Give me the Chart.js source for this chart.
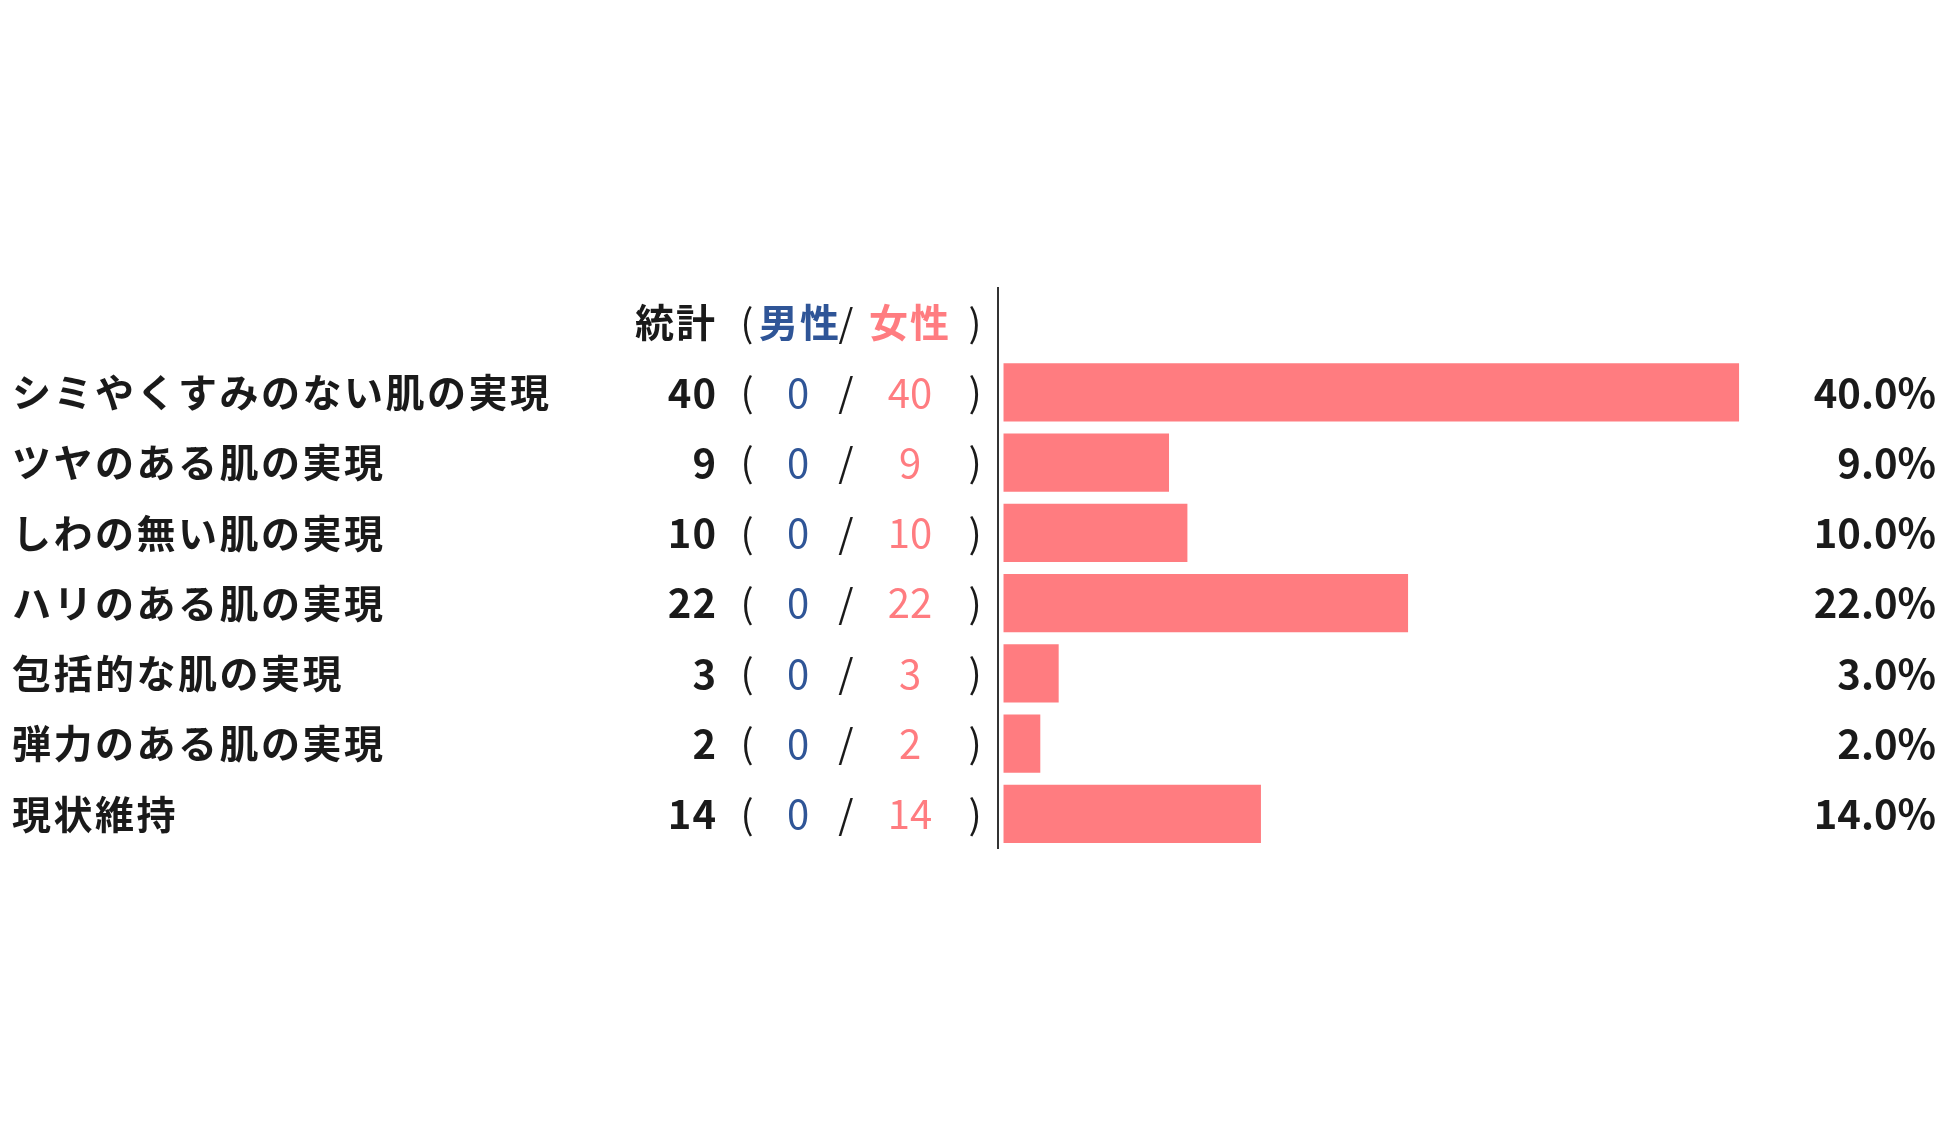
<!DOCTYPE html>
<html>
<head>
<meta charset="utf-8">
<script src="https://cdn.jsdelivr.net/npm/chart.js@4"></script>
<style>
  html, body { margin: 0; padding: 0; background: #fff; }
  #wrap { width: 1949px; height: 1137px; }
</style>
</head>
<body>
<div id="wrap"><canvas id="skinChart"></canvas></div>
<script>
// data
var categories = ['シミやくすみのない肌の実現', 'ツヤのある肌の実現', 'しわの無い肌の実現', 'ハリのある肌の実現', '包括的な肌の実現', '弾力のある肌の実現', '現状維持'];
var totalCounts = [40, 9, 10, 22, 3, 2, 14];
var maleCounts = [0, 0, 0, 0, 0, 0, 0];
var femaleCounts = [40, 9, 10, 22, 3, 2, 14];
var percentLabels = ['40.0%', '9.0%', '10.0%', '22.0%', '3.0%', '2.0%', '14.0%'];
var headerTexts = ['統計', '男性', '女性'];

var PINK = '#ff7c80';
var BLUE = '#2f5597';
var DARK = '#1a1a1a';
var FONT = '"Noto Sans CJK JP", "Noto Sans", sans-serif';

// first row of the category axis is the header line
var rowLabels = [''].concat(categories);
var rowValues = [null].concat(totalCounts);

var tablePlugin = {
  id: 'tableText',
  afterDatasetsDraw: function(chart) {
    var ctx = chart.ctx;
    var y = chart.scales.y;
    var area = chart.chartArea;
    ctx.save();
    ctx.textBaseline = 'middle';

    // header
    var hy = y.getPixelForValue(0);
    ctx.font = 'bold 39px ' + FONT;
    ctx.letterSpacing = '2px';
    ctx.fillStyle = DARK;
    ctx.textAlign = 'right';
    ctx.fillText(headerTexts[0], 717, hy);
    ctx.font = '38px ' + FONT;
    ctx.letterSpacing = '0px';
    ctx.textAlign = 'center';
    ctx.fillText('(', 747, hy);
    ctx.fillText(')', 975, hy);
    ctx.fillText('/', 846, hy);
    ctx.font = 'bold 39px ' + FONT;
    ctx.letterSpacing = '2px';
    ctx.fillStyle = BLUE;
    ctx.fillText(headerTexts[1], 800, hy);
    ctx.fillStyle = PINK;
    ctx.fillText(headerTexts[2], 910, hy);

    for (var i = 0; i < categories.length; i++) {
      var py = y.getPixelForValue(i + 1);
      ctx.font = 'bold 39px ' + FONT;
      ctx.letterSpacing = '2.5px';
      ctx.fillStyle = DARK;
      ctx.textAlign = 'left';
      ctx.fillText(categories[i], 12, py);

      ctx.font = 'bold 40px ' + FONT;
      ctx.letterSpacing = '1px';
      ctx.textAlign = 'right';
      ctx.fillText(String(totalCounts[i]), 717, py);
      ctx.letterSpacing = '0px';
      ctx.fillText(percentLabels[i], 1936, py);

      ctx.font = '39px ' + FONT;
      ctx.textAlign = 'center';
      ctx.fillText('(', 747, py);
      ctx.fillText('/', 846, py);
      ctx.fillText(')', 975, py);
      ctx.font = '40px ' + FONT;
      ctx.fillStyle = BLUE;
      ctx.fillText(String(maleCounts[i]), 798, py);
      ctx.fillStyle = PINK;
      ctx.fillText(String(femaleCounts[i]), 910, py);
    }

    // vertical axis line
    ctx.strokeStyle = '#333';
    ctx.lineWidth = 2;
    ctx.beginPath();
    ctx.moveTo(area.left, area.top);
    ctx.lineTo(area.left, area.bottom);
    ctx.stroke();
    ctx.restore();
  }
};

var ctx = document.getElementById('skinChart').getContext('2d');
var skinChart = new Chart(ctx, {
  type: 'bar',
  data: {
    labels: rowLabels,
    datasets: [{
      label: '統計',
      data: rowValues,
      backgroundColor: PINK,
      borderWidth: 0,
      barPercentage: 0.92,
      categoryPercentage: 0.9
    }]
  },
  options: {
    indexAxis: 'y',
    responsive: true,
    maintainAspectRatio: false,
    animation: false,
    devicePixelRatio: 1,
    layout: { padding: { left: 998, right: 118, top: 287, bottom: 288 } },
    plugins: {
      legend: { display: false },
      tooltip: { enabled: false }
    },
    scales: {
      x: {
        display: false,
        min: -0.3,
        max: 45
      },
      y: {
        display: true,
        ticks: { display: false },
        grid: { display: false, drawTicks: false },
        border: { display: false },
        afterFit: function(scale) { scale.width = 0; }
      }
    }
  },
  plugins: [tablePlugin]
});
</script>
</body>
</html>
